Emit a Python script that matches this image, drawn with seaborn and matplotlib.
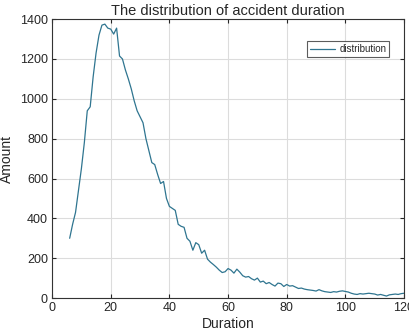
import numpy as np
import pandas as pd
import matplotlib
matplotlib.use("Agg")
import matplotlib.pyplot as plt
import seaborn as sns

duration = list(range(6, 121))
amount = [300, 370, 430, 540, 650, 780, 940, 960, 1110, 1230,
          1320, 1370, 1375, 1355, 1350, 1325, 1355, 1215, 1200, 1145,
          1100, 1050, 990, 940, 910, 880, 800, 740, 680, 670,
          620, 575, 585, 500, 460, 450, 440, 370, 360, 355,
          300, 285, 240, 278, 268, 225, 240, 195, 180, 168,
          155, 140, 128, 132, 148, 140, 125, 145, 130, 112,
          105, 108, 97, 90, 100, 80, 85, 72, 78, 68,
          60, 75, 72, 58, 68, 60, 62, 55, 48, 50,
          45, 42, 40, 38, 35, 42, 36, 32, 30, 28,
          32, 30, 34, 36, 33, 30, 24, 20, 18, 22,
          20, 22, 24, 22, 20, 15, 18, 14, 10, 16,
          18, 20, 18, 22, 24]

df = pd.DataFrame({"Duration": duration, "Amount": amount})

sns.set_style("whitegrid")
plt.rcParams['font.family'] = ['Liberation Sans', 'DejaVu Sans']

fig = plt.figure(figsize=(4.10, 3.36), dpi=100)
ax = fig.add_axes([0.127, 0.113, 0.8585, 0.830])

sns.lineplot(data=df, x="Duration", y="Amount", ax=ax, color="#2f7590",
             linewidth=0.9, label="distribution")

ax.set_xlim(0, 120)
ax.set_ylim(0, 1400)
ax.set_xticks(range(0, 121, 20))
ax.set_yticks(range(0, 1401, 200))
ax.grid(True, color="#dcdcdc", linewidth=0.8)
for s in ax.spines.values():
    s.set_color("#333333")
    s.set_linewidth(0.8)
ax.tick_params(direction="in", length=3, labelsize=9, colors="#262626",
               top=True, right=True, left=True, bottom=True, pad=3)
ax.set_title("The distribution of accident duration", fontsize=10.5, pad=3)
ax.set_xlabel("Duration", fontsize=10, labelpad=2)
ax.set_ylabel("Amount", fontsize=10, labelpad=4)
leg = ax.legend(loc="upper right", bbox_to_anchor=(0.958, 0.921), fontsize=7,
                frameon=True, fancybox=False, handlelength=2.6,
                borderpad=0.3, handletextpad=0.4, borderaxespad=0)
leg.get_frame().set_edgecolor("#333333")
leg.get_frame().set_linewidth(0.8)

fig.savefig("out.png", dpi=100)
